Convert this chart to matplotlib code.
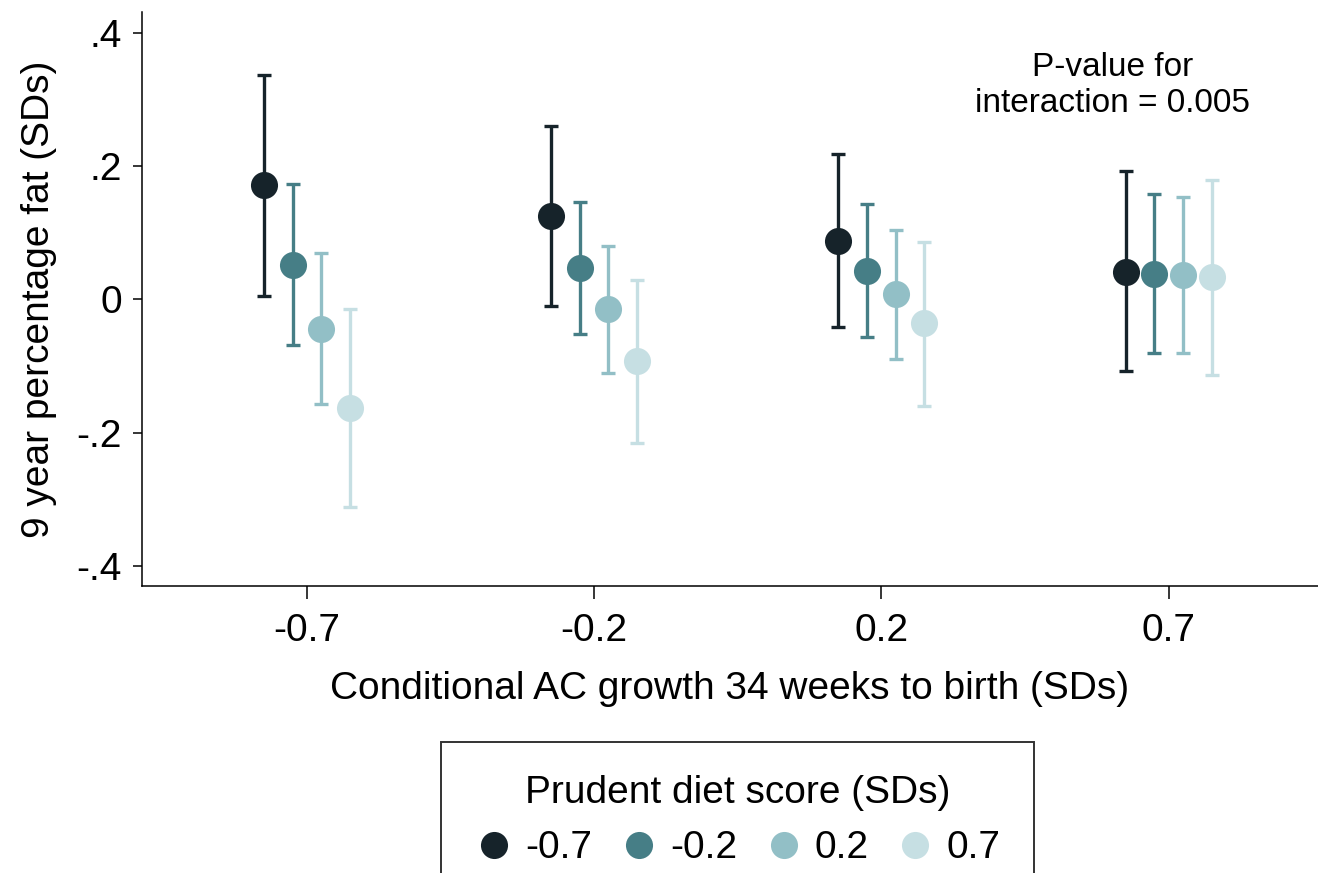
import numpy as np
import matplotlib
matplotlib.use("Agg")
import matplotlib.pyplot as plt
from matplotlib.lines import Line2D

plt.rcParams["font.family"] = ["Liberation Sans", "DejaVu Sans"]

# growth categories on the x axis, diet score groups as series
growth_labels = ["-0.7", "-0.2", "0.2", "0.7"]
diet_labels = ["-0.7", "-0.2", "0.2", "0.7"]
diet_colors = ["#16232a", "#467e86", "#92bfc6", "#c6dfe3"]
offsets = [-0.15, -0.05, 0.05, 0.15]

# estimates and 95% CI, one row per diet group, one column per growth group
est = np.array([
    [0.172, 0.126, 0.088, 0.042],
    [0.052, 0.048, 0.043, 0.038],
    [-0.044, -0.015, 0.008, 0.037],
    [-0.163, -0.093, -0.036, 0.034],
])
ci_low = np.array([
    [0.006, -0.010, -0.042, -0.108],
    [-0.069, -0.052, -0.056, -0.080],
    [-0.157, -0.111, -0.089, -0.081],
    [-0.312, -0.216, -0.160, -0.113],
])
ci_high = np.array([
    [0.338, 0.261, 0.218, 0.193],
    [0.173, 0.147, 0.144, 0.158],
    [0.070, 0.080, 0.105, 0.154],
    [-0.015, 0.030, 0.086, 0.179],
])

fig = plt.figure(figsize=(13.18, 8.73), dpi=100)
ax = fig.add_axes([142 / 1318, 1 - 586 / 873, 1 - 142 / 1318, (586 - 12) / 873])

x = np.arange(len(growth_labels))
for i in range(len(diet_labels)):
    xs = x + offsets[i]
    yerr = [est[i] - ci_low[i], ci_high[i] - est[i]]
    ax.errorbar(xs, est[i], yerr=yerr, fmt="none", ecolor=diet_colors[i],
                elinewidth=2.4, capsize=4.8, capthick=2.4, zorder=2)
    ax.plot(xs, est[i], "o", color=diet_colors[i], markersize=19.5,
            markeredgewidth=0, zorder=3)

ax.set_xlim(-0.574, 3.52)
ax.set_ylim(-0.4305, 0.432)
ax.set_xticks(x)
ax.set_xticklabels(growth_labels)
ax.set_yticks([-0.4, -0.2, 0, 0.2, 0.4])
ax.set_yticklabels(["-.4", "-.2", "0", ".2", ".4"])
ax.tick_params(axis="y", direction="out", length=6.5, width=1.1, labelsize=28, pad=8)
ax.tick_params(axis="x", direction="out", length=9.5, width=1.1, labelsize=28, pad=10)

for side in ["top", "right"]:
    ax.spines[side].set_visible(False)
for side in ["left", "bottom"]:
    ax.spines[side].set_linewidth(1.1)

ax.set_xlabel("Conditional AC growth 34 weeks to birth (SDs)", fontsize=28, labelpad=16)
ax.set_ylabel("9 year percentage fat (SDs)", fontsize=28, labelpad=14)

ax.text(2.806, 0.372, "P-value for\ninteraction = 0.005", ha="center", va="top",
        fontsize=24, linespacing=1.2)

handles = [Line2D([], [], marker="o", linestyle="none", color=c, markersize=19.5,
                  markeredgewidth=0) for c in diet_colors]
leg = fig.legend(handles, diet_labels, loc="upper center",
                 bbox_to_anchor=(737.5 / 1318, 1 - 742 / 873), ncol=4,
                 title="Prudent diet score (SDs)", fontsize=28, title_fontsize=28,
                 frameon=True, fancybox=False, edgecolor="black",
                 handletextpad=0.3, columnspacing=0.7, borderpad=0.85,
                 borderaxespad=0, handlelength=1.0)
leg.get_frame().set_linewidth(1.4)

fig.savefig("out.png", dpi=100)
